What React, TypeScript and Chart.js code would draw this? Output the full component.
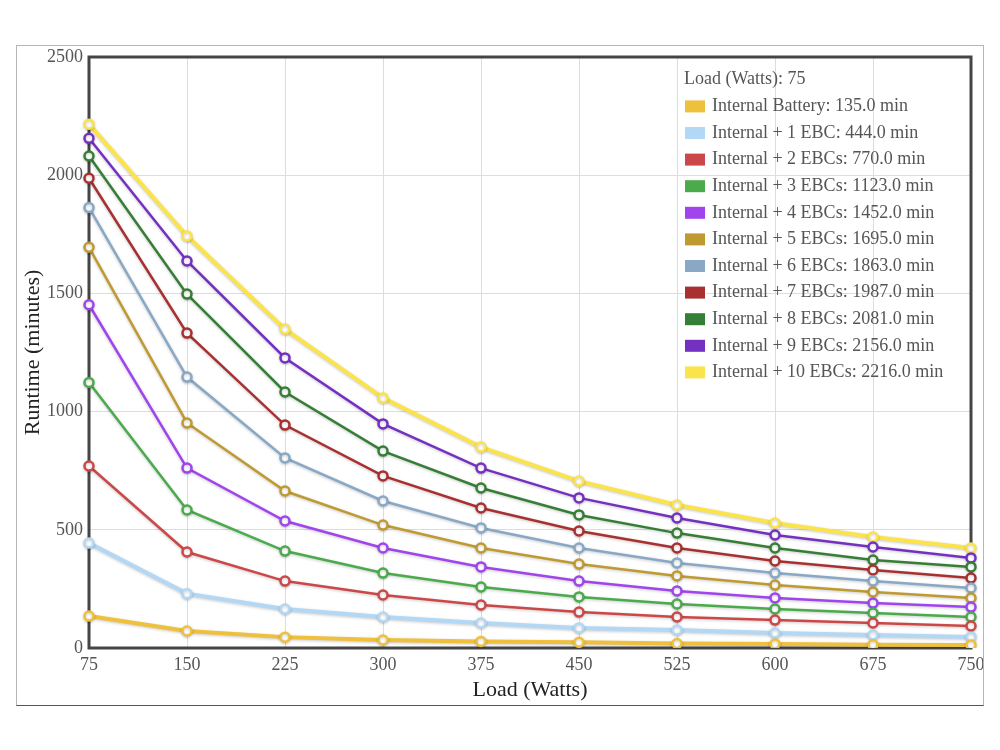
import React, { useEffect, useRef } from "react";
import { Chart, registerables, Tooltip } from "chart.js";

Chart.register(...registerables);

const loads = ["75", "150", "225", "300", "375", "450", "525", "600", "675", "750"];

const seriesNames = [
  "Internal Battery",
  "Internal + 1 EBC",
  "Internal + 2 EBCs",
  "Internal + 3 EBCs",
  "Internal + 4 EBCs",
  "Internal + 5 EBCs",
  "Internal + 6 EBCs",
  "Internal + 7 EBCs",
  "Internal + 8 EBCs",
  "Internal + 9 EBCs",
  "Internal + 10 EBCs",
];

const internalBattery = [135, 72, 46, 34, 28, 24, 19, 17, 14, 13];
const ebc1 = [444, 230, 165, 131, 106, 85, 76, 63, 55, 47];
const ebc2 = [770, 406, 283, 224, 182, 152, 131, 118, 106, 93];
const ebc3 = [1123, 584, 410, 317, 258, 216, 186, 165, 148, 131];
const ebc4 = [1452, 761, 537, 423, 343, 283, 241, 212, 190, 173];
const ebc5 = [1695, 952, 664, 520, 423, 355, 305, 266, 237, 211];
const ebc6 = [1863, 1146, 804, 622, 508, 423, 360, 317, 283, 254];
const ebc7 = [1987, 1332, 943, 728, 592, 495, 423, 368, 330, 296];
const ebc8 = [2081, 1497, 1083, 833, 677, 563, 486, 423, 372, 343];
const ebc9 = [2156, 1637, 1227, 948, 761, 635, 550, 478, 427, 381];
const ebc10 = [2216, 1743, 1349, 1058, 850, 706, 605, 529, 470, 423];

const seriesValues = [internalBattery, ebc1, ebc2, ebc3, ebc4, ebc5, ebc6, ebc7, ebc8, ebc9, ebc10];

const seriesColors = [
  "#eec03c",
  "#b2d8f6",
  "#cc4848",
  "#4aaa4c",
  "#a044ee",
  "#bf9a30",
  "#88a8c6",
  "#a83030",
  "#367e36",
  "#7430c0",
  "#fbe34c",
];

const seriesWidths = [4, 4, 2.5, 2.5, 2.5, 2.5, 2.5, 2.5, 2.5, 2.5, 4];

const yTicks = [0, 500, 1000, 1500, 2000, 2500];

const FONT = "'Liberation Serif', 'Times New Roman', serif";

(Tooltip as any).positioners.topRightFixed = function (this: any) {
  const area = this.chart.chartArea;
  return { x: area.left + 587, y: area.top + 3 };
};

const plotBorder = {
  id: "plotBorder",
  beforeDatasetsDraw(chart: any) {
    const { ctx, chartArea } = chart;
    ctx.save();
    ctx.strokeStyle = "#454545";
    ctx.lineWidth = 3;
    ctx.strokeRect(chartArea.left, chartArea.top, chartArea.right - chartArea.left, chartArea.bottom - chartArea.top);
    ctx.restore();
  },
};

const lineShadow = {
  id: "lineShadow",
  beforeDatasetDraw(chart: any) {
    const ctx = chart.ctx;
    ctx.save();
    ctx.shadowColor = "rgba(0,0,0,0.22)";
    ctx.shadowBlur = 3;
    ctx.shadowOffsetX = 0;
    ctx.shadowOffsetY = 1;
  },
  afterDatasetDraw(chart: any) {
    chart.ctx.restore();
  },
};

export default function App() {
  const canvasRef = useRef<HTMLCanvasElement | null>(null);

  useEffect(() => {
    if (!canvasRef.current) return;
    const datasets = seriesNames.map((name, i) => ({
      label: name,
      data: seriesValues[i],
      borderColor: seriesColors[i],
      backgroundColor: seriesColors[i],
      borderWidth: seriesWidths[i],
      pointRadius: 4.5,
      pointBorderWidth: 2.5,
      pointBackgroundColor: "#ffffff",
      pointBorderColor: seriesColors[i],
      tension: 0,
      fill: false,
    }));

    const chart = new Chart(canvasRef.current, {
      type: "line",
      data: { labels: loads, datasets },
      plugins: [plotBorder, lineShadow],
      options: {
        animation: false,
        responsive: true,
        maintainAspectRatio: false,
        layout: { padding: { left: 3, right: 0, top: 11, bottom: 2 } },
        interaction: { mode: "index", intersect: false },
        events: [],
        plugins: {
          legend: { display: false },
          tooltip: {
            enabled: true,
            position: "topRightFixed" as any,
            xAlign: "left",
            yAlign: "top",
            caretSize: 0,
            caretPadding: 0,
            cornerRadius: 0,
            backgroundColor: "rgba(255,255,255,0)",
            titleColor: "#555555",
            bodyColor: "#555555",
            titleFont: { family: FONT, size: 18, weight: "normal" },
            bodyFont: { family: FONT, size: 18 },
            titleMarginBottom: 6,
            bodySpacing: 5,
            padding: 8,
            boxWidth: 22,
            boxHeight: 14,
            boxPadding: 4,
            multiKeyBackground: "#ffffff",
            callbacks: {
              title: (items: any[]) => `Load (Watts): ${items[0].label}`,
              label: (item: any) => `${item.dataset.label}: ${Number(item.raw).toFixed(1)} min`,
              labelColor: (item: any) => ({
                borderColor: "rgba(255,255,255,0.6)",
                backgroundColor: seriesColors[item.datasetIndex],
                borderWidth: 1,
                borderRadius: 0,
              }),
            },
          },
        },
        scales: {
          x: {
            type: "category",
            offset: false,
            grid: { color: "#dddddd", lineWidth: 1, drawTicks: false },
            border: { display: false },
            ticks: { color: "#555555", font: { family: FONT, size: 18 }, padding: 6, maxRotation: 0 },
            afterFit: (scale: any) => {
              scale.paddingLeft = 0;
              scale.paddingRight = 12;
              scale.height = 55;
            },
            title: {
              display: true,
              text: "Load (Watts)",
              color: "#222222",
              font: { family: FONT, size: 22 },
              padding: { top: 0, bottom: 0 },
            },
          },
          y: {
            min: 0,
            max: 2500,
            afterBuildTicks: (axis: any) => {
              axis.ticks = yTicks.map((v) => ({ value: v }));
            },
            afterFit: (scale: any) => {
              scale.paddingTop = 0;
              scale.paddingBottom = 0;
              scale.width = 69;
            },
            grid: { color: "#dddddd", lineWidth: 1, drawTicks: false },
            border: { display: false },
            ticks: {
              color: "#555555",
              font: { family: FONT, size: 18 },
              padding: 6,
              callback: (v: any) => String(v),
            },
            title: {
              display: true,
              text: "Runtime (minutes)",
              color: "#222222",
              font: { family: FONT, size: 22 },
              padding: { top: 0, bottom: 0 },
            },
          },
        },
      },
    });

    const meta = chart.getDatasetMeta(0);
    const active = seriesNames.map((_, i) => ({ datasetIndex: i, index: 0 }));
    chart.tooltip!.setActiveElements(active, { x: meta.data[0].x, y: meta.data[0].y });
    chart.update();

    return () => chart.destroy();
  }, []);

  return (
    <div
      style={{
        marginTop: 37,
        marginLeft: 8,
        width: 968,
        height: 661,
        boxSizing: "border-box",
        borderTop: "1px solid #b5b5b5",
        borderLeft: "1px solid #b5b5b5",
        borderRight: "1px solid #b5b5b5",
        borderBottom: "1px solid #555555",
        background: "#ffffff",
        position: "relative",
      }}
    >
      <canvas ref={canvasRef} />
    </div>
  );
}
